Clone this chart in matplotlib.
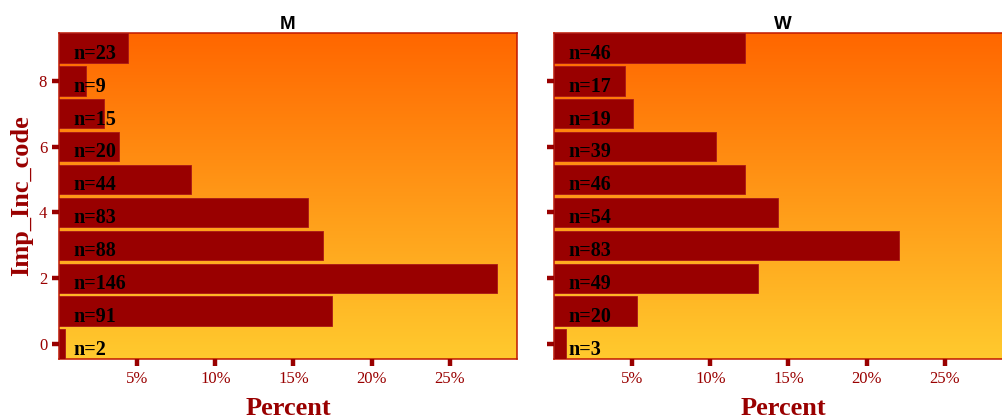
import matplotlib
matplotlib.use("Agg")
import matplotlib.pyplot as plt
import numpy as np
from matplotlib.colors import LinearSegmentedColormap

# data: counts per Imp_Inc_code (0..9) for each panel
codes = [0, 1, 2, 3, 4, 5, 6, 7, 8, 9]
n_m = [2, 91, 146, 88, 83, 44, 20, 15, 9, 23]
n_w = [3, 20, 49, 83, 54, 46, 39, 19, 17, 46]
panels = ["M", "W"]
x_ticks = [5, 10, 15, 20, 25]
x_ticklabels = ["5%", "10%", "15%", "20%", "25%"]
y_ticks = [0, 2, 4, 6, 8]

bar_col = "#990000"
dark_red = "#990000"
grad = LinearSegmentedColormap.from_list("bg", ["#ffca2e", "#ff6600"])

W, H = 1003, 419
fig = plt.figure(figsize=(W / 100, H / 100), dpi=100)

serif = "Liberation Serif"

def panel(left_px, counts, title, show_ylabels):
    ax = fig.add_axes([left_px / W, (H - 359) / H, 458 / W, 326 / H])
    total = sum(counts)
    pct = [c / total * 100 for c in counts]
    g = np.linspace(0, 1, 256).reshape(-1, 1)
    ax.imshow(g, cmap=grad, extent=[0, 1, 0, 1], transform=ax.transAxes,
              aspect="auto", origin="lower", zorder=0)
    ax.barh(codes, pct, height=0.9, color=bar_col, edgecolor="#a81818",
            linewidth=0.6, zorder=2)
    for y, c in zip(codes, counts):
        ax.text(0.95, y - 0.33, "n=%d" % c, ha="left", va="baseline",
                fontsize=14.5, fontweight="bold", family=serif, color="black",
                zorder=3)
    ax.set_xlim(0, 29.3)
    ax.set_ylim(-0.45, 9.45)
    ax.set_xticks(x_ticks)
    ax.set_xticklabels(x_ticklabels)
    ax.set_yticks(y_ticks)
    if not show_ylabels:
        ax.set_yticklabels([])
    ax.tick_params(length=5, width=3.2, color=dark_red, labelcolor=dark_red,
                   labelsize=12, pad=3.5)
    for lab in ax.get_xticklabels() + ax.get_yticklabels():
        lab.set_family(serif)
    for s in ax.spines.values():
        s.set_color("#c01800")
        s.set_linewidth(1.1)
        s.set_zorder(1)
    fig.text((left_px + 229) / W, 1 - 29 / H, title, ha="center",
             va="baseline", fontsize=13.5, fontweight="bold",
             family="Liberation Sans", color="black")
    fig.text((left_px + 229) / W, 1 - 415 / H, "Percent", ha="center",
             va="baseline", fontsize=19, fontweight="bold", family=serif,
             color=dark_red)
    return ax

panel(59, n_m, panels[0], True)
panel(554, n_w, panels[1], False)

fig.text(22 / W, 1 - 196 / H, "Imp_Inc_code", rotation=90, ha="center",
         va="center", fontsize=19, fontweight="bold", family=serif,
         color=dark_red)

fig.savefig("out.png", dpi=100)
